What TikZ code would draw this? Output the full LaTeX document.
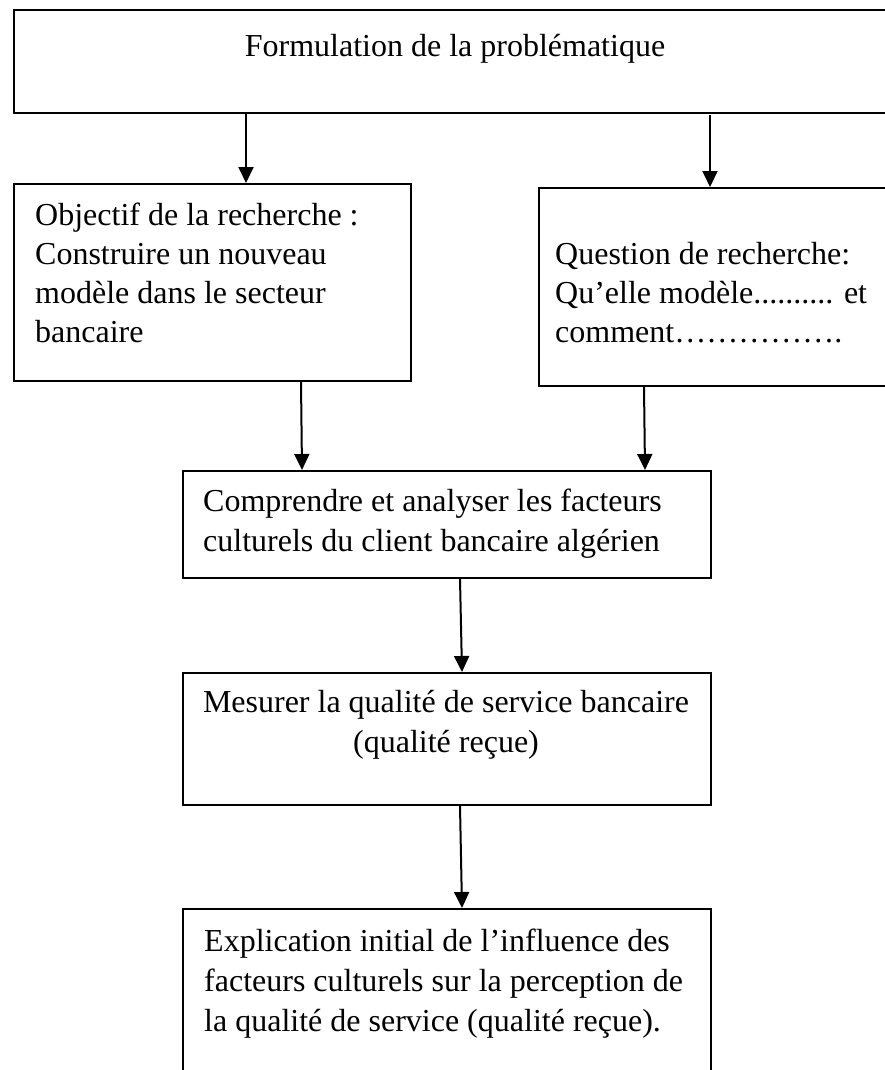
\documentclass[tikz,border=0pt]{standalone}
\usepackage{fontspec}
\setmainfont[Ligatures=NoCommon]{Liberation Serif}
\usetikzlibrary{arrows.meta}
\begin{document}
\begin{tikzpicture}[x=1pt,y=-1pt,
  box/.style={draw, line width=2pt, inner sep=0pt, anchor=north west},
  txt/.style={inner sep=0pt, anchor=base west, font=\fontsize{32}{38}\selectfont},
  ctxt/.style={txt, anchor=base},
  arr/.style={line width=2pt, -{Triangle[length=16pt,width=15pt]}}]
\clip (0,0) rectangle (885,1070);
\fill[white] (0,0) rectangle (885,1070);

% boxes
\node[box, minimum width=900pt, minimum height=103pt] (top) at (13,9) {};
\node[box, minimum width=397pt, minimum height=197pt] (obj) at (13,183) {};
\node[box, minimum width=400pt, minimum height=198pt] (qst) at (538,187) {};
\node[box, minimum width=528pt, minimum height=107pt] (cmp) at (182,470) {};
\node[box, minimum width=528pt, minimum height=132pt] (mes) at (182,672) {};
\node[box, minimum width=528pt, minimum height=300pt] (exp) at (182,908) {};

% texts
\node[ctxt] (t1) at (455,57) {Formulation de la problématique};

\node[txt] (o1) at (35,225) {Objectif de la recherche :};
\node[txt] (o2) at (35,264) {Construire un nouveau};
\node[txt] (o3) at (35,303) {modèle dans le secteur};
\node[txt] (o4) at (35,342) {bancaire};

\node[txt] (q1) at (555,264) {Question de recherche:};
\node[txt] (q2) at (555,303) {Qu’elle modèle.......... et};
\node[txt] (q3) at (555,342) {comment…………….};

\node[txt] (c1) at (203,511) {Comprendre et analyser les facteurs};
\node[txt] (c2) at (203,551) {culturels du client bancaire algérien};

\node[ctxt] (m1) at (446,712) {Mesurer la qualité de service bancaire};
\node[ctxt] (m2) at (446,752) {(qualité reçue)};

\node[txt] (e1) at (204,951) {Explication initial de l’influence des};
\node[txt] (e2) at (204,991) {facteurs culturels sur la perception de};
\node[txt] (e3) at (204,1031) {la qualité de service (qualité reçue).};

% connectors
\draw[arr] ([xshift=233pt]top.south west) -- ([xshift=233pt]obj.north west);
\draw[arr] ([xshift=697pt,yshift=-1pt]top.south west) -- ([xshift=172pt]qst.north west);
\draw[arr] ([xshift=288pt]obj.south west) -- ([xshift=120pt]cmp.north west);
\draw[arr] ([xshift=106pt]qst.south west) -- ([xshift=463pt]cmp.north west);
\draw[arr] ([xshift=278pt]cmp.south west) -- ([xshift=280pt]mes.north west);
\draw[arr] ([xshift=278pt]mes.south west) -- ([xshift=280pt]exp.north west);
\end{tikzpicture}
\end{document}
